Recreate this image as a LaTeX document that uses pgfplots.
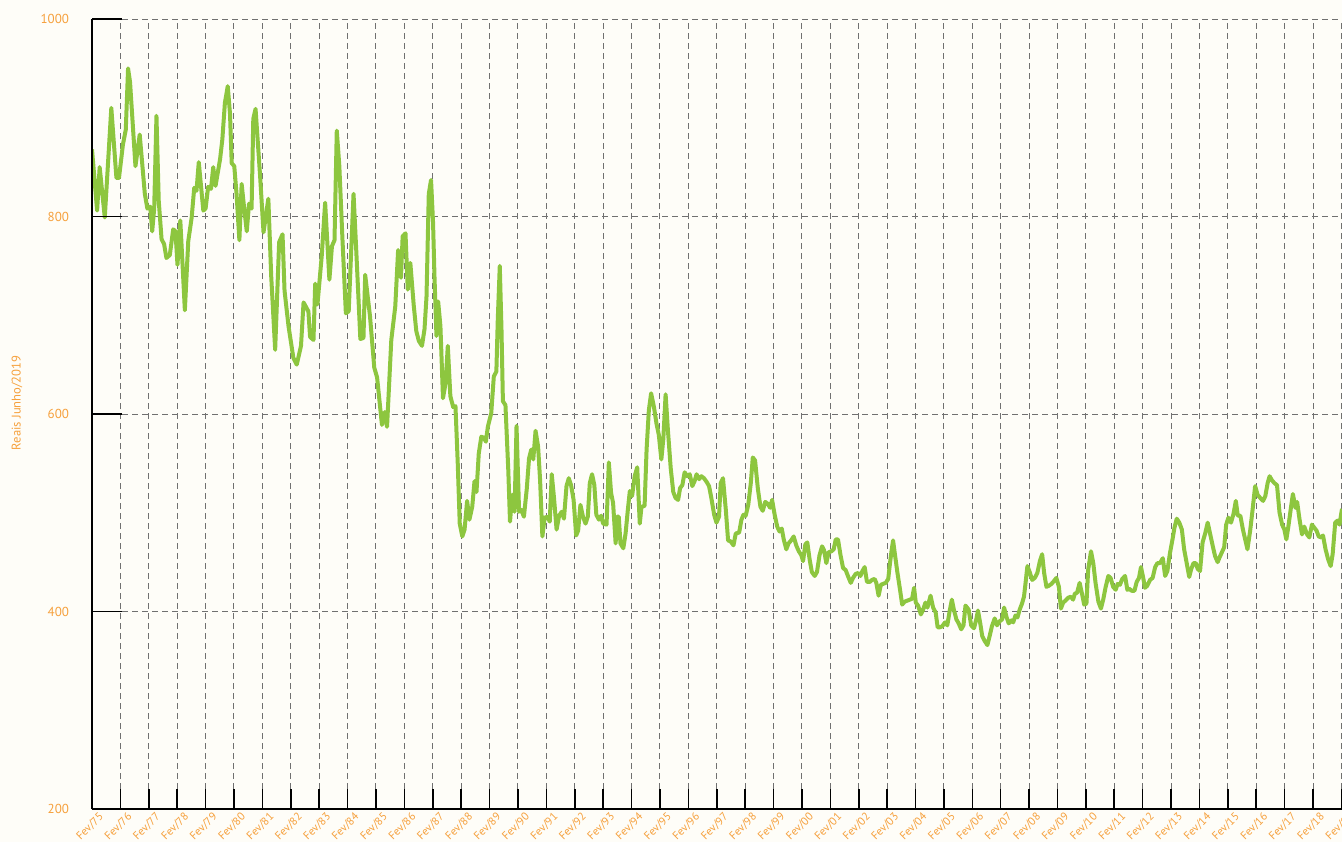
\documentclass[border=0pt]{standalone}
\usepackage{fontspec}
\setmainfont{PT Sans}
\usepackage{pgfplots}
\pgfplotsset{compat=1.18}
\definecolor{bgcream}{HTML}{FEFDF8}
\definecolor{lblorange}{HTML}{F6A03C}
\definecolor{linegreen}{HTML}{8DC63F}
\definecolor{gridgrey}{HTML}{707070}

\begin{document}
\begin{tikzpicture}
  % page area: 671pt x 421pt, plot box at the origin
  \fill[bgcream] (-46pt,-16.5pt) rectangle (625pt,404.5pt);
  \begin{axis}[
      at={(0,0)}, anchor=south west,
      scale only axis,
      width=625pt, height=395pt,
      xmin=0, xmax=44.02,
      ymin=200, ymax=1000,
      axis x line*=bottom,
      axis y line*=left,
      axis line style={black, line width=1pt, -},
      xtick={0,...,44},
      xticklabels={Fev/75,Fev/76,Fev/77,Fev/78,Fev/79,Fev/80,Fev/81,Fev/82,Fev/83,Fev/84,
        Fev/85,Fev/86,Fev/87,Fev/88,Fev/89,Fev/90,Fev/91,Fev/92,Fev/93,Fev/94,
        Fev/95,Fev/96,Fev/97,Fev/98,Fev/99,Fev/00,Fev/01,Fev/02,Fev/03,Fev/04,
        Fev/05,Fev/06,Fev/07,Fev/08,Fev/09,Fev/10,Fev/11,Fev/12,Fev/13,Fev/14,
        Fev/15,Fev/16,Fev/17,Fev/18,Fev/19},
      ytick={200,400,600,800,1000},
      yticklabels={200,400,600,800,1000},
      tick align=inside,
      major tick length=10pt,
      tick style={black, line width=0.8pt},
      grid=major,
      grid style={gridgrey, line width=0.5pt, dash pattern=on 3pt off 2pt},
      xticklabel style={font=\fontsize{5.6}{6}\selectfont, text=lblorange,
        inner sep=0pt, xshift=5pt, yshift=-3pt, rotate=45, anchor=east},
      yticklabel style={font=\fontsize{6.5}{7}\selectfont, text=lblorange,
        anchor=east, xshift=-8pt},
      ylabel={Reais Junho/2019},
      every axis y label/.style={at={(axis description cs:-0.06,0.514)},
        rotate=90, anchor=center, font=\fontsize{6.3}{7}\selectfont, text=lblorange},
      clip=true,
    ]
    \addplot[color=linegreen, line width=2pt, line join=round] coordinates {
      (0,868) (0.18,806) (0.27,850) (0.45,799) (0.68,910) (0.86,839) (0.95,839)
      (1.09,873) (1.19,888) (1.27,950) (1.34,936) (1.53,851) (1.68,883) (1.86,823)
      (1.95,808) (2.05,810) (2.12,785) (2.19,808) (2.27,902) (2.35,816) (2.45,777)
      (2.54,772) (2.62,758) (2.74,761) (2.86,787) (2.94,785) (3.01,751) (3.11,796)
      (3.27,705) (3.39,775) (3.51,799) (3.6,829) (3.68,826) (3.76,855) (3.92,806)
      (4.0,808) (4.09,830) (4.19,828) (4.27,850) (4.35,831) (4.51,858) (4.59,878)
      (4.68,915) (4.78,932) (4.86,904) (4.92,854) (5.01,851) (5.09,823) (5.19,776)
      (5.27,833) (5.36,808) (5.45,785) (5.53,813) (5.62,808) (5.68,899) (5.76,909)
      (5.92,841) (6.04,784) (6.21,818) (6.31,740) (6.45,665) (6.59,774) (6.71,782)
      (6.78,725) (6.92,689) (7.09,657) (7.21,650) (7.36,669) (7.45,713) (7.62,704)
      (7.68,678) (7.8,675) (7.86,732) (7.94,711) (8.09,760) (8.21,814) (8.36,736)
      (8.45,770) (8.54,776) (8.62,887) (8.71,851) (8.82,777) (8.94,702) (9.04,704)
      (9.21,823) (9.31,763) (9.45,676) (9.56,677) (9.62,741) (9.79,699) (9.94,647)
      (10.04,637) (10.21,589) (10.31,602) (10.39,587) (10.54,675) (10.68,709)
      (10.78,766) (10.88,738) (10.94,780) (11.04,783) (11.12,726) (11.21,753)
      (11.33,710) (11.42,684) (11.51,674) (11.62,669) (11.71,686) (11.78,719)
      (11.86,823) (11.94,837) (12.01,794) (12.06,740) (12.13,679) (12.19,714)
      (12.27,689) (12.36,616) (12.45,631) (12.53,669) (12.62,618) (12.72,607)
      (12.8,608) (12.88,550) (12.95,489) (13.04,476) (13.12,483) (13.21,512)
      (13.29,493) (13.39,506) (13.47,532) (13.54,521) (13.62,560) (13.71,577)
      (13.8,576) (13.87,572) (13.94,587) (14.06,601) (14.15,638) (14.24,643)
      (14.29,696) (14.36,750) (14.42,686) (14.47,613) (14.56,609) (14.66,543)
      (14.72,491) (14.8,518) (14.88,501) (14.95,588) (15.04,501) (15.12,503)
      (15.21,496) (15.31,524) (15.39,555) (15.47,564) (15.54,554) (15.62,583)
      (15.71,567) (15.78,533) (15.86,476) (15.94,495) (16.04,496) (16.12,491)
      (16.19,539) (16.27,515) (16.36,483) (16.45,497) (16.54,501) (16.62,494)
      (16.71,527) (16.79,535) (16.87,528) (16.96,513) (17.05,477) (17.12,482)
      (17.2,508) (17.29,496) (17.38,489) (17.46,496) (17.53,530) (17.61,539)
      (17.69,528) (17.76,498) (17.85,493) (17.93,497) (18.0,489) (18.12,488)
      (18.2,551) (18.28,520) (18.35,510) (18.44,469) (18.49,496) (18.55,496)
      (18.61,469) (18.71,464) (18.79,479) (18.87,503) (18.94,522) (19.02,517)
      (19.11,537) (19.2,546) (19.29,489) (19.35,506) (19.46,507) (19.53,564)
      (19.61,604) (19.69,621) (19.79,607) (19.88,590) (19.96,579) (20.05,554)
      (20.12,575) (20.2,620) (20.28,584) (20.38,545) (20.47,521) (20.55,515)
      (20.64,513) (20.71,525) (20.79,528) (20.87,541) (20.96,537) (21.05,539)
      (21.14,527) (21.22,532) (21.29,539) (21.38,534) (21.46,537) (21.55,535)
      (21.65,531) (21.73,527) (21.81,515) (21.91,498) (21.99,490) (22.08,496)
      (22.14,530) (22.22,535) (22.32,503) (22.4,472) (22.49,471) (22.59,467)
      (22.67,479) (22.79,480) (22.87,493) (22.94,498) (23.02,497) (23.11,508)
      (23.2,530) (23.27,556) (23.35,553) (23.45,524) (23.54,506) (23.62,502)
      (23.71,511) (23.8,509) (23.88,505) (23.95,513) (24.04,498) (24.13,486)
      (24.21,481) (24.29,484) (24.36,473) (24.45,463) (24.53,469) (24.62,472)
      (24.71,476) (24.8,467) (24.89,461) (24.98,457) (25.04,451) (25.12,468)
      (25.19,470) (25.27,453) (25.35,440) (25.45,436) (25.53,440) (25.62,457)
      (25.71,466) (25.78,462) (25.86,449) (25.94,460) (26.04,461) (26.12,463)
      (26.19,473) (26.27,473) (26.36,457) (26.45,444) (26.54,442) (26.62,436)
      (26.72,429) (26.8,434) (26.89,438) (26.98,439) (27.06,436) (27.13,441)
      (27.21,445) (27.29,430) (27.39,430) (27.47,432) (27.56,433) (27.62,429)
      (27.7,416) (27.78,427) (27.86,428) (27.95,429) (28.04,433) (28.09,446)
      (28.15,460) (28.21,472) (28.27,459) (28.36,440) (28.45,423) (28.53,407)
      (28.62,410) (28.71,411) (28.8,412) (28.88,413) (28.95,424) (29.01,409)
      (29.09,406) (29.19,397) (29.27,402) (29.35,409) (29.42,404) (29.53,416)
      (29.62,404) (29.71,399) (29.78,384) (29.86,384) (29.94,385) (30.04,389)
      (30.12,386) (30.2,400) (30.28,412) (30.35,402) (30.44,392) (30.52,388)
      (30.61,382) (30.69,386) (30.76,406) (30.87,402) (30.96,386) (31.06,383)
      (31.14,392) (31.2,401) (31.28,388) (31.35,375) (31.44,370) (31.53,366)
      (31.61,375) (31.69,385) (31.79,393) (31.87,386) (31.96,390) (32.05,392)
      (32.12,404) (32.2,395) (32.28,388) (32.38,391) (32.44,389) (32.52,396)
      (32.59,394) (32.67,402) (32.75,408) (32.82,415) (32.88,430) (32.94,446)
      (33.02,440) (33.11,432) (33.2,434) (33.29,439) (33.38,451) (33.46,458)
      (33.53,439) (33.61,425) (33.69,426) (33.79,428) (33.88,431) (33.96,434)
      (34.05,425) (34.12,403) (34.2,409) (34.28,411) (34.38,414) (34.47,415)
      (34.55,412) (34.61,418) (34.69,419) (34.78,429) (34.87,417) (34.94,407)
      (35.02,408) (35.08,442) (35.18,461) (35.26,449) (35.34,429) (35.44,410)
      (35.53,403) (35.61,412) (35.69,424) (35.79,436) (35.87,434) (35.96,425)
      (36.05,422) (36.12,428) (36.2,427) (36.28,433) (36.38,436) (36.46,422)
      (36.53,423) (36.61,421) (36.71,421) (36.79,430) (36.87,434) (36.94,445)
      (37.02,434) (37.08,424) (37.16,426) (37.26,432) (37.35,434) (37.44,445)
      (37.52,449) (37.61,449) (37.71,454) (37.79,436) (37.87,441) (37.96,459)
      (38.05,473) (38.12,485) (38.2,494) (38.29,490) (38.38,483) (38.46,463)
      (38.55,449) (38.64,435) (38.71,443) (38.79,449) (38.87,449) (38.94,443)
      (39.02,441) (39.11,470) (39.2,479) (39.29,490) (39.38,478) (39.47,466)
      (39.55,456) (39.64,450) (39.71,455) (39.79,460) (39.87,465) (39.94,488)
      (40.02,495) (40.11,490) (40.2,499) (40.28,512) (40.35,497) (40.44,497)
      (40.53,483) (40.61,473) (40.69,463) (40.79,483) (40.87,503) (40.96,527)
      (41.05,518) (41.14,515) (41.24,512) (41.32,517) (41.4,530) (41.47,537)
      (41.55,533) (41.64,530) (41.73,528) (41.82,500) (41.91,488) (41.99,483)
      (42.06,473) (42.14,488) (42.22,505) (42.29,519) (42.38,505) (42.44,511)
      (42.52,494) (42.61,478) (42.69,486) (42.79,478) (42.87,475) (42.96,488)
      (43.04,485) (43.12,482) (43.2,476) (43.29,475) (43.35,477) (43.44,463)
      (43.53,453) (43.62,446) (43.69,458) (43.78,490) (43.86,492) (43.93,488)
      (44.02,504)
    };
  \end{axis}
  % second axis only for the longer inward y ticks
  \begin{axis}[
      at={(0,0)}, anchor=south west,
      scale only axis,
      width=625pt, height=395pt,
      xmin=0, xmax=44.02,
      ymin=200, ymax=1000,
      hide x axis,
      axis y line*=left,
      axis line style={black, line width=1pt, -},
      ytick={400,600,800,1000},
      yticklabels={},
      tick align=inside,
      major tick length=15pt,
      tick style={black, line width=0.8pt},
    ]
  \end{axis}
  \pgfresetboundingbox
  \path[use as bounding box] (-46pt,-16.5pt) rectangle (625pt,404.5pt);
\end{tikzpicture}
\end{document}
